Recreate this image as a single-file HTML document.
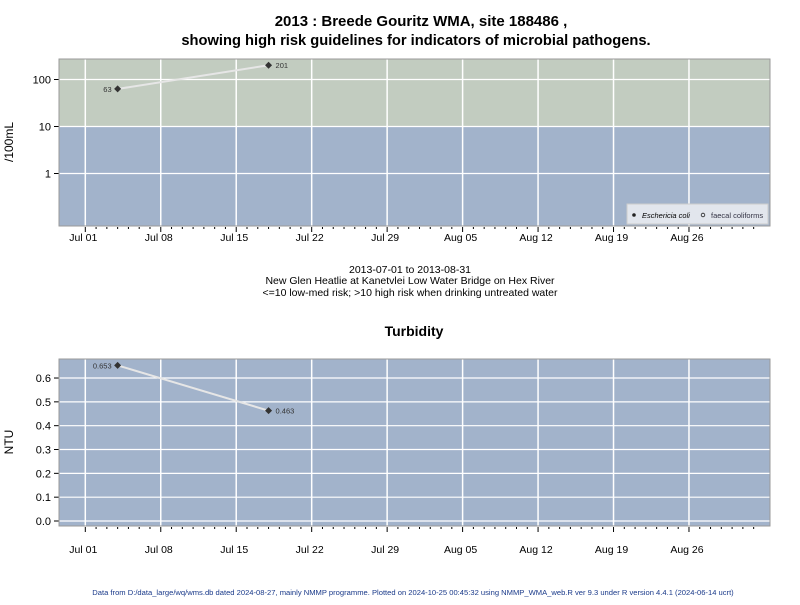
<!DOCTYPE html>
<html><head><meta charset="utf-8"><style>
body{margin:0;background:#fff;font-family:"Liberation Sans",Arial,sans-serif}
svg text{font-family:"Liberation Sans",Arial,sans-serif}
</style></head><body>
<svg id="c" width="800" height="600" viewBox="0 0 800 600" xmlns="http://www.w3.org/2000/svg">
<text x="421" y="26" text-anchor="middle" font-size="15" font-weight="bold">2013 : Breede Gouritz WMA, site 188486 ,</text>
<text x="416" y="45" text-anchor="middle" font-size="14.7" font-weight="bold">showing high risk guidelines for indicators of microbial pathogens.</text>
<text x="13" y="142" text-anchor="middle" font-size="12" transform="rotate(-90 13 142)">/100mL</text>
<text x="410" y="273" text-anchor="middle" font-size="10.5">2013-07-01 to 2013-08-31</text>
<text x="410" y="284" text-anchor="middle" font-size="10.5">New Glen Heatlie at Kanetvlei Low Water Bridge on Hex River</text>
<text x="410" y="296" text-anchor="middle" font-size="10.5">&lt;=10 low-med risk; &gt;10 high risk when drinking untreated water</text>
<text x="414" y="336" text-anchor="middle" font-size="14" font-weight="bold">Turbidity</text>
<text x="13" y="442" text-anchor="middle" font-size="12" transform="rotate(-90 13 442)">NTU</text>
<text x="413" y="595" text-anchor="middle" font-size="7.6" fill="#1a3a8a">Data from D:/data_large/wq/wms.db dated 2024-08-27, mainly NMMP programme. Plotted on 2024-10-25 00:45:32 using NMMP_WMA_web.R ver 9.3 under R version 4.4.1 (2024-06-14 ucrt)</text>
<g id="g"></g>
</svg>
<script>
const ecoliDays=[3,17];
const ecoliVals=[63,201];
const ecoliLabels=["63","201"];
const turbDays=[3,17];
const turbVals=[0.653,0.463];
const turbLabels=["0.653","0.463"];
const xTickLabels=["Jul 01","Jul 08","Jul 15","Jul 22","Jul 29","Aug 05","Aug 12","Aug 19","Aug 26"];
const xTickDays=[0,7,14,21,28,35,42,49,56];
const logTicks=[1,10,100];
const logTickLabels=["1","10","100"];
const turbTicks=[0,0.1,0.2,0.3,0.4,0.5,0.6];
const turbTickLabels=["0.0","0.1","0.2","0.3","0.4","0.5","0.6"];
const guideline=10;

const NS="http://www.w3.org/2000/svg";
const G=document.getElementById('g');
function el(t,a,p){const e=document.createElementNS(NS,t);for(const k in a)e.setAttribute(k,a[k]);(p||G).appendChild(e);return e;}
const L=59,R=770;
const x=d=>85.3+d*10.78;
const yTop=v=>173.5-Math.log10(v)*47;
const yBot=v=>521-v*238.3;

function panel(top,bot,yf,ticks,labels,name){
  let r=el('rect',{x:L,y:top,width:R-L,height:bot-top,fill:'#a2b3cb'});
  
  
  xTickDays.forEach((d,i)=>{
    let l=el('line',{x1:x(d),x2:x(d),y1:top,y2:bot,stroke:'#fff','stroke-width':1.5});
    
    
  });
}
function axes(top,bot,yf,ticks,labels,name,labY){
  ticks.forEach((v,i)=>{
    const yy=yf(v);
    let l=el('line',{x1:L,x2:R,y1:yy,y2:yy,stroke:'#fff','stroke-width':1.2});
    
    
    el('line',{x1:L-5,x2:L,y1:yy,y2:yy,stroke:'#000'});
    let t=el('text',{x:L-8,y:yy+4,'text-anchor':'end','font-size':11});
    t.textContent=labels[i];
    
    
  });
  let b=el('rect',{x:L,y:top,width:R-L,height:bot-top,fill:'none',stroke:'#999'});
  
  
  for(let d=0;d<=62;d++){
    const major=xTickDays.includes(d);
    el('line',{x1:x(d),x2:x(d),y1:bot+1,y2:bot+(major?6:3),stroke:'#000'});
  }
  xTickDays.forEach((d,i)=>{
    let t=el('text',{x:x(d)-2,y:labY,'text-anchor':'middle','font-size':10.5});
    t.textContent=xTickLabels[i];
    
    
  });
}
function series(days,vals,labs,yf,name){
  let pts=days.map((d,i)=>x(d)+','+yf(vals[i])).join(' ');
  let pl=el('polyline',{points:pts,fill:'none',stroke:'#e6e6e6','stroke-width':2});
  
  
  days.forEach((d,i)=>{
    const cx=x(d),cy=yf(vals[i]);
    let p=el('path',{d:`M${cx-3.5},${cy}L${cx},${cy-3.5}L${cx+3.5},${cy}L${cx},${cy+3.5}Z`,fill:'#333'});
    
    
    const left=(i===0);
    let t=el('text',{x:left?cx-6:cx+7,y:cy+3,'text-anchor':left?'end':'start','font-size':7.5,fill:'#333'});
    t.textContent=labs[i];
    
    
  });
}
panel(59,226,yTop,logTicks,logTickLabels,'ecoli');
let hr=el('rect',{x:L,y:59,width:R-L,height:yTop(guideline)-59,fill:'#c2ccc0'});


xTickDays.forEach(d=>el('line',{x1:x(d),x2:x(d),y1:59,y2:yTop(guideline),stroke:'#fff','stroke-width':1.5}));
axes(59,226,yTop,logTicks,logTickLabels,'ecoli',241);
series(ecoliDays,ecoliVals,ecoliLabels,yTop,'ecoli');
const lg=el('g',{});


el('rect',{x:627,y:204,width:141,height:20,fill:'#e2e6ed',stroke:'#ccc'},lg);
el('circle',{cx:634,cy:215,r:1.8,fill:'#222'},lg);
let t1=el('text',{x:642,y:218,'font-size':7.5,'font-style':'italic'},lg);t1.textContent='Eschericia coli';


el('circle',{cx:703,cy:215,r:1.8,fill:'none',stroke:'#222','stroke-width':0.8},lg);
let t2=el('text',{x:711,y:218,'font-size':7.5,fill:'#334'},lg);t2.textContent='faecal coliforms';


panel(359,526,yBot,turbTicks,turbTickLabels,'turbidity');
axes(359,526,yBot,turbTicks,turbTickLabels,'turbidity',553);
series(turbDays,turbVals,turbLabels,yBot,'turbidity');
</script>
</body></html>
